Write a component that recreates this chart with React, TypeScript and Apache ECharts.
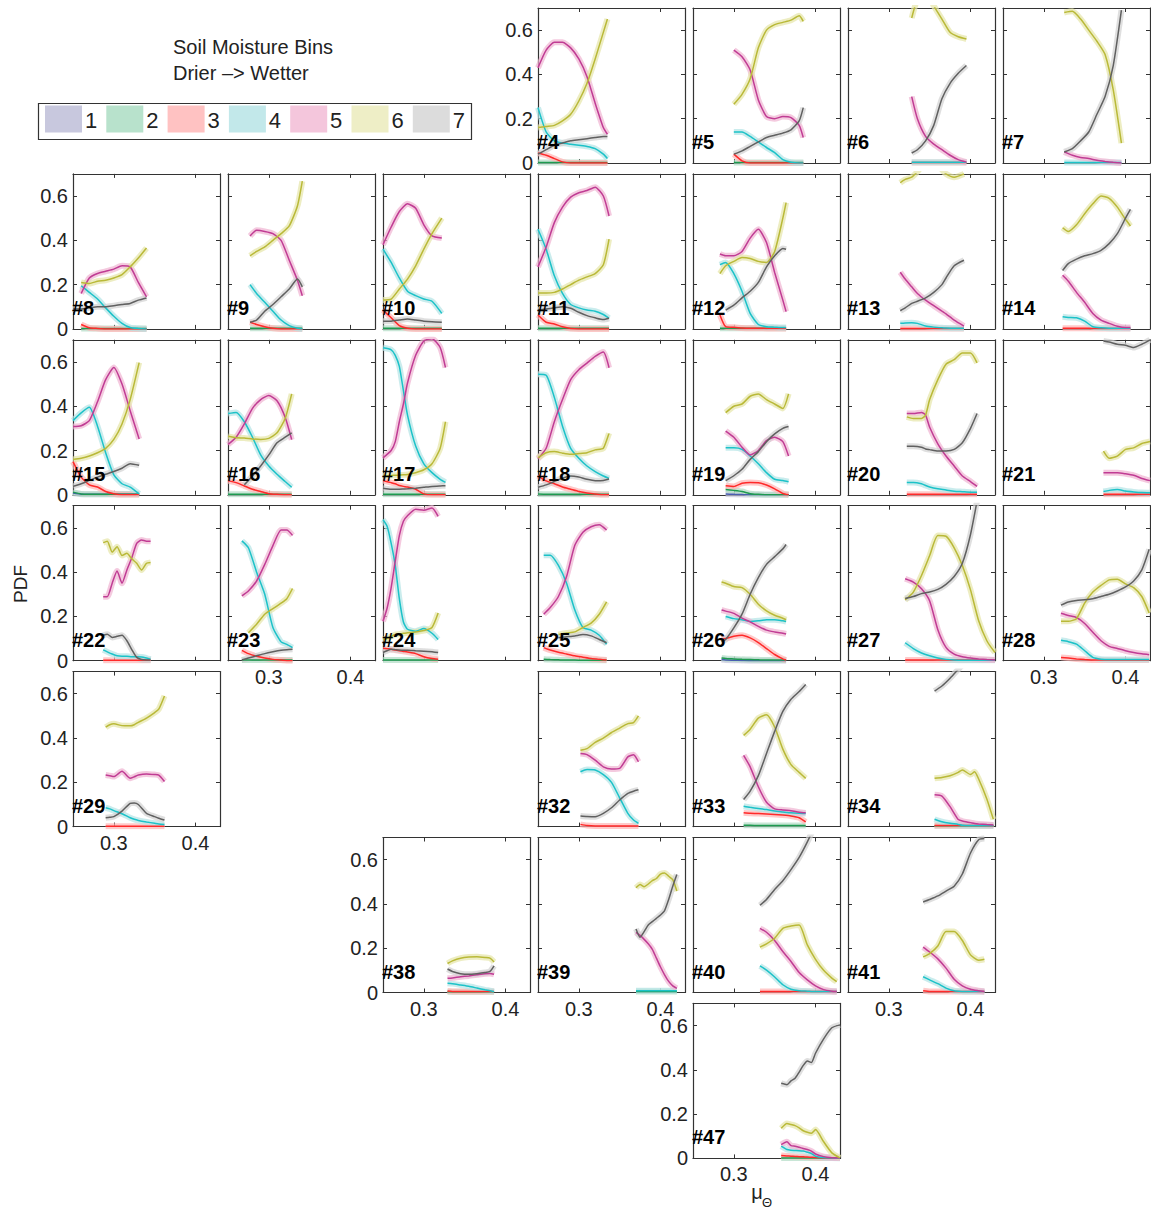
import React, { useEffect, useRef } from "react";
import * as echarts from "echarts";

// ---------- constants ----------
const FONT = '"Liberation Sans", Arial, Helvetica, sans-serif';
const BIN_NAMES = ["1", "2", "3", "4", "5", "6", "7"];
const BIN_LINE = ["#4a5fb0", "#1e9a50", "#ff2a2a", "#1cc2c8", "#c03c94", "#b9b938", "#606060"];
const BIN_FILL = ["#c8c8de", "#b8e2cc", "#ffc2c2", "#c2e8ea", "#f4c6dc", "#eeeec6", "#dcdcdc"];
const BAND_FILL = ["#c4c4dc", "#b0dcc4", "#ffb4b4", "#b4e4e6", "#f0b4d2", "#e6e6a8", "#d2d2d2"];
const X_MIN = 0.25;
const X_MAX = 0.43;
const Y_MIN = 0;
const Y_MAX = 0.7;
const X_TICKS = [0.3, 0.4];
const Y_TICKS = [0, 0.2, 0.4, 0.6];

type Bins = Record<number, (number | null)[]>;

// ---------- data (x = mean soil moisture, y = PDF per bin) ----------
const P4_X = [0.25, 0.26, 0.27, 0.28, 0.29, 0.30, 0.31, 0.32, 0.33, 0.335];
const P4: Bins = {
  2: [0.002, 0.002, 0.002, 0.002, 0.002, 0.002, 0.002, 0.002, 0.002, 0.002],
  3: [0.045, 0.035, 0.02, 0.005, 0, 0, 0, 0, 0, 0],
  4: [0.25, 0.14, 0.10, 0.09, 0.085, 0.08, 0.075, 0.065, 0.04, 0.02],
  5: [0.43, 0.51, 0.545, 0.545, 0.52, 0.47, 0.39, 0.27, 0.16, 0.13],
  6: [0.16, 0.165, 0.17, 0.19, 0.22, 0.28, 0.36, 0.47, 0.59, 0.65],
  7: [0.04, 0.06, 0.08, 0.09, 0.10, 0.105, 0.11, 0.115, 0.12, 0.12],
};

const P5_X = [0.30, 0.31, 0.32, 0.33, 0.34, 0.35, 0.36, 0.37, 0.38, 0.385];
const P5: Bins = {
  2: [0.002, 0.002, 0.002, 0.002, 0.002, 0.002, 0.002, 0.002, 0.002, 0.002],
  3: [0.04, 0.01, 0, 0, 0, 0, 0, 0, 0, 0],
  4: [0.14, 0.14, 0.12, 0.095, 0.07, 0.047, 0.015, 0.003, 0, 0],
  5: [0.51, 0.48, 0.42, 0.285, 0.21, 0.20, 0.21, 0.205, 0.17, 0.115],
  6: [0.265, 0.31, 0.38, 0.52, 0.60, 0.625, 0.635, 0.645, 0.665, 0.64],
  7: [0.04, 0.055, 0.075, 0.095, 0.115, 0.125, 0.135, 0.15, 0.19, 0.25],
};

const P6_X = [0.328, 0.335, 0.345, 0.355, 0.365, 0.375, 0.385, 0.395];
const P6: Bins = {
  3: [0.002, 0.002, 0.002, 0.002, 0.002, 0.002, 0.002, 0.002],
  4: [0.003, 0.003, 0.003, 0.003, 0.003, 0.003, 0.003, 0.003],
  5: [0.30, 0.20, 0.12, 0.085, 0.06, 0.035, 0.015, 0.004],
  6: [0.655, 0.74, 0.78, 0.71, 0.65, 0.59, 0.57, 0.56],
  7: [0.045, 0.06, 0.10, 0.17, 0.29, 0.36, 0.405, 0.44],
};

const P7_X = [0.325, 0.335, 0.345, 0.355, 0.365, 0.375, 0.385, 0.395];
const P7: Bins = {
  4: [0.002, 0.002, 0.002, 0.002, 0.002, 0.002, 0.002, 0.002],
  5: [0.05, 0.035, 0.025, 0.02, 0.012, 0.007, 0.003, 0],
  6: [0.68, 0.685, 0.65, 0.60, 0.55, 0.49, 0.33, 0.09],
  7: [0.05, 0.065, 0.10, 0.14, 0.22, 0.30, 0.44, 0.69],
};

const P8_X = [0.25, 0.26, 0.27, 0.28, 0.29, 0.30, 0.31, 0.32, 0.33, 0.34];
const P8: Bins = {
  2: [null, 0.002, 0.002, 0.002, 0.002, 0.002, 0.002, 0.002, 0.002, 0.002],
  3: [null, 0.02, 0.005, 0.002, 0, 0, 0, 0, 0, 0],
  4: [null, 0.195, 0.165, 0.135, 0.095, 0.057, 0.025, 0.006, 0.002, 0],
  5: [null, 0.16, 0.23, 0.25, 0.26, 0.27, 0.285, 0.28, 0.21, 0.145],
  6: [null, 0.21, 0.205, 0.215, 0.22, 0.23, 0.245, 0.28, 0.32, 0.365],
  7: [0.09, 0.09, 0.095, 0.10, 0.10, 0.105, 0.11, 0.115, 0.13, 0.14],
};

const P9_X = [0.277, 0.285, 0.295, 0.305, 0.315, 0.325, 0.335, 0.341];
const P9: Bins = {
  2: [0.003, 0.003, 0.003, 0.003, 0.003, 0.003, 0.003, 0.003],
  3: [0.03, 0.02, 0.01, 0.003, 0, 0, 0, 0],
  4: [0.20, 0.16, 0.12, 0.08, 0.04, 0.015, 0.003, 0],
  5: [0.42, 0.445, 0.44, 0.43, 0.40, 0.31, 0.22, 0.15],
  6: [0.33, 0.35, 0.37, 0.40, 0.43, 0.465, 0.555, 0.667],
  7: [0.03, 0.04, 0.08, 0.11, 0.145, 0.18, 0.225, 0.19],
};

const P10_X = [0.25, 0.26, 0.27, 0.28, 0.29, 0.30, 0.31, 0.322];
const P10: Bins = {
  2: [0.003, 0.003, 0.003, 0.003, 0.003, 0.003, 0.003, 0.003],
  3: [0.085, 0.05, 0.015, 0.003, 0, 0, 0, 0],
  4: [0.36, 0.30, 0.23, 0.17, 0.15, 0.135, 0.125, 0.07],
  5: [0.38, 0.46, 0.53, 0.565, 0.545, 0.47, 0.42, 0.41],
  6: [0.13, 0.135, 0.18, 0.225, 0.285, 0.36, 0.43, 0.50],
  7: [0.034, 0.035, 0.04, 0.045, 0.04, 0.035, 0.032, 0.03],
};

const P11_X = [0.25, 0.26, 0.27, 0.28, 0.29, 0.30, 0.31, 0.32, 0.33, 0.337];
const P11: Bins = {
  2: [0.003, 0.003, 0.003, 0.003, 0.003, 0.003, 0.003, 0.003, 0.003, 0.003],
  3: [0.063, 0.03, 0.022, 0.01, 0.002, 0, 0, 0, 0, 0],
  4: [0.45, 0.36, 0.24, 0.16, 0.11, 0.095, 0.085, 0.08, 0.065, 0.048],
  5: [0.28, 0.37, 0.48, 0.55, 0.595, 0.615, 0.625, 0.64, 0.60, 0.51],
  6: [0.162, 0.162, 0.165, 0.18, 0.20, 0.22, 0.235, 0.25, 0.29, 0.405],
  7: [0.085, 0.09, 0.095, 0.10, 0.093, 0.075, 0.06, 0.05, 0.042, 0.048],
};

const P12_X = [0.283, 0.29, 0.30, 0.31, 0.32, 0.33, 0.34, 0.35, 0.36, 0.364];
const P12: Bins = {
  2: [0.003, 0.003, 0.003, 0.003, 0.003, 0.003, 0.003, 0.003, 0.003, 0.003],
  3: [0.063, 0.01, 0.007, 0.004, 0.003, 0.003, 0.002, 0.002, 0.002, 0.002],
  4: [0.29, 0.30, 0.25, 0.17, 0.07, 0.02, 0.01, 0.008, 0.006, 0.006],
  5: [0.338, 0.33, 0.33, 0.35, 0.41, 0.45, 0.39, 0.255, 0.13, 0.078],
  6: [0.25, 0.285, 0.305, 0.322, 0.318, 0.305, 0.30, 0.35, 0.50, 0.57],
  7: [null, 0.085, 0.107, 0.14, 0.17, 0.21, 0.28, 0.33, 0.363, 0.36],
};

const P13_X = [0.314, 0.32, 0.328, 0.335, 0.345, 0.355, 0.365, 0.37, 0.38, 0.392];
const P13: Bins = {
  3: [0.002, 0.002, 0.002, 0.002, 0.002, 0.002, 0.002, 0.002, 0.002, 0.002],
  4: [0.025, 0.027, 0.028, 0.025, 0.013, 0.008, 0.005, 0.004, 0.003, 0.003],
  5: [0.256, 0.225, 0.19, 0.16, 0.13, 0.105, 0.08, 0.068, 0.04, 0.013],
  6: [0.66, 0.675, 0.685, 0.71, 0.75, 0.75, 0.72, 0.70, 0.685, 0.70],
  7: [0.082, 0.095, 0.115, 0.125, 0.14, 0.165, 0.20, 0.23, 0.285, 0.31],
};

const P14_X = [0.323, 0.33, 0.34, 0.35, 0.36, 0.37, 0.38, 0.39, 0.40, 0.406];
const P14: Bins = {
  3: [0.003, 0.003, 0.003, 0.003, 0.002, 0.002, 0.002, 0.002, 0.002, 0.002],
  4: [0.055, 0.052, 0.05, 0.035, 0.01, 0.005, 0.003, 0.003, 0.003, 0.003],
  5: [0.242, 0.215, 0.165, 0.12, 0.07, 0.04, 0.025, 0.012, 0.006, 0.006],
  6: [0.457, 0.44, 0.47, 0.52, 0.565, 0.60, 0.59, 0.55, 0.495, 0.465],
  7: [0.264, 0.295, 0.315, 0.33, 0.34, 0.355, 0.385, 0.43, 0.50, 0.54],
};

const P15_X = [0.25, 0.26, 0.27, 0.28, 0.29, 0.30, 0.31, 0.32, 0.331];
const P15: Bins = {
  1: [0.008, 0.003, 0.002, 0.002, 0.002, 0.002, 0.002, 0.002, 0.002],
  2: [0.012, 0.004, 0.003, 0.003, 0.003, 0.003, 0.003, 0.003, 0.003],
  3: [0.15, 0.08, 0.045, 0.035, 0.015, 0.005, 0, 0, 0],
  4: [0.335, 0.37, 0.395, 0.31, 0.19, 0.09, 0.05, 0.035, 0.004],
  5: [0.308, 0.312, 0.335, 0.42, 0.52, 0.575, 0.50, 0.38, 0.252],
  6: [0.16, 0.165, 0.175, 0.19, 0.21, 0.25, 0.32, 0.43, 0.597],
  7: [0.038, 0.05, 0.065, 0.08, 0.093, 0.105, 0.12, 0.14, 0.133],
};

const P16_X = [0.25, 0.26, 0.27, 0.28, 0.29, 0.30, 0.31, 0.32, 0.328];
const P16: Bins = {
  2: [0.003, 0.003, 0.003, 0.003, 0.003, 0.003, 0.003, 0.003, 0.003],
  3: [0.064, 0.055, 0.04, 0.025, 0.015, 0.005, 0.002, 0, 0],
  4: [0.367, 0.372, 0.33, 0.26, 0.18, 0.13, 0.093, 0.06, 0.034],
  5: [0.227, 0.26, 0.32, 0.39, 0.43, 0.448, 0.425, 0.35, 0.249],
  6: [0.264, 0.258, 0.256, 0.252, 0.25, 0.255, 0.28, 0.345, 0.456],
  7: [null, null, 0.045, 0.085, 0.13, 0.18, 0.235, 0.26, 0.28],
};

const P17_X = [0.25, 0.26, 0.265, 0.27, 0.275, 0.28, 0.29, 0.30, 0.31, 0.32, 0.3265];
const P17: Bins = {
  2: [0.003, 0.003, 0.003, 0.003, 0.003, 0.003, 0.003, 0.003, 0.003, 0.003, 0.003],
  3: [0.064, 0.055, 0.05, 0.042, 0.038, 0.035, 0.025, 0.004, 0, 0, 0],
  4: [0.664, 0.655, 0.63, 0.58, 0.47, 0.36, 0.22, 0.14, 0.10, 0.07, 0.056],
  5: [0.167, 0.20, 0.24, 0.33, 0.41, 0.505, 0.63, 0.695, 0.705, 0.665, 0.575],
  6: [0.086, 0.087, 0.088, 0.089, 0.09, 0.092, 0.10, 0.113, 0.14, 0.21, 0.33],
  7: [0.03, 0.025, 0.025, 0.025, 0.026, 0.027, 0.03, 0.034, 0.038, 0.04, 0.041],
};

const P18_X = [0.25, 0.26, 0.27, 0.28, 0.29, 0.30, 0.31, 0.32, 0.33, 0.337];
const P18: Bins = {
  2: [0.004, 0.003, 0.003, 0.003, 0.003, 0.003, 0.003, 0.003, 0.003, 0.003],
  3: [0.086, 0.063, 0.05, 0.035, 0.025, 0.015, 0.008, 0.004, 0, 0],
  4: [0.544, 0.54, 0.44, 0.31, 0.21, 0.165, 0.13, 0.105, 0.085, 0.074],
  5: [0.163, 0.21, 0.33, 0.43, 0.52, 0.565, 0.595, 0.625, 0.645, 0.574],
  6: [0.167, 0.19, 0.195, 0.188, 0.183, 0.186, 0.19, 0.203, 0.21, 0.278],
  7: [0.034, 0.045, 0.06, 0.075, 0.085, 0.08, 0.07, 0.064, 0.065, 0.071],
};

const P19_X = [0.29, 0.30, 0.31, 0.32, 0.33, 0.34, 0.35, 0.36, 0.367];
const P19: Bins = {
  1: [0.004, 0.002, 0.001, 0, 0, 0, 0, 0, 0],
  2: [0.024, 0.02, 0.015, 0.005, 0.002, 0, 0, 0, 0],
  3: [0.041, 0.038, 0.052, 0.056, 0.054, 0.044, 0.027, 0.006, 0],
  4: [0.212, 0.212, 0.205, 0.175, 0.14, 0.10, 0.07, 0.065, 0.059],
  5: [0.288, 0.26, 0.215, 0.18, 0.20, 0.245, 0.26, 0.24, 0.175],
  6: [0.371, 0.40, 0.41, 0.445, 0.455, 0.43, 0.41, 0.39, 0.456],
  7: [0.064, 0.086, 0.115, 0.16, 0.195, 0.24, 0.275, 0.30, 0.308],
};

const P20_X = [0.322, 0.33, 0.34, 0.345, 0.35, 0.36, 0.37, 0.38, 0.39, 0.40, 0.408];
const P20: Bins = {
  3: [0.003, 0.003, 0.003, 0.003, 0.003, 0.003, 0.003, 0.003, 0.003, 0.003, 0.003],
  4: [0.056, 0.056, 0.05, 0.042, 0.035, 0.027, 0.022, 0.016, 0.014, 0.012, 0.012],
  5: [0.367, 0.367, 0.372, 0.36, 0.305, 0.23, 0.175, 0.13, 0.085, 0.06, 0.038],
  6: [0.352, 0.345, 0.345, 0.36, 0.43, 0.52, 0.59, 0.61, 0.64, 0.64, 0.596],
  7: [0.219, 0.219, 0.215, 0.207, 0.204, 0.198, 0.198, 0.205, 0.235, 0.30, 0.367],
};

const P21_X = [0.373, 0.38, 0.39, 0.40, 0.41, 0.42, 0.43];
const P21: Bins = {
  3: [0.002, 0.002, 0.002, 0.002, 0.002, 0.002, 0.002],
  4: [0.015, 0.02, 0.024, 0.017, 0.013, 0.01, 0.009],
  5: [0.10, 0.10, 0.10, 0.095, 0.088, 0.074, 0.064],
  6: [0.197, 0.165, 0.175, 0.205, 0.212, 0.232, 0.241],
  7: [0.695, 0.69, 0.68, 0.675, 0.665, 0.68, 0.70],
};

const P22_X = [0.287, 0.292, 0.298, 0.304, 0.31, 0.316, 0.322, 0.328, 0.334, 0.34, 0.345];
const P22: Bins = {
  3: [0.002, 0.002, 0.002, 0.002, 0.002, 0.002, 0.002, 0.002, 0.002, 0.002, 0.002],
  4: [0.049, 0.04, 0.03, 0.022, 0.02, 0.02, 0.018, 0.018, 0.017, 0.012, 0.007],
  5: [0.289, 0.289, 0.35, 0.405, 0.35, 0.41, 0.465, 0.53, 0.545, 0.54, 0.54],
  6: [0.533, 0.54, 0.49, 0.515, 0.475, 0.485, 0.46, 0.44, 0.41, 0.44, 0.444],
  7: [0.115, 0.12, 0.105, 0.11, 0.115, 0.09, 0.05, 0.015, 0.005, 0.003, 0.003],
};

const P23_X = [0.267, 0.275, 0.285, 0.295, 0.305, 0.315, 0.322, 0.329];
const P23: Bins = {
  2: [0.003, 0.003, 0.003, 0.003, 0.003, 0.003, 0.003, 0.003],
  3: [0.047, 0.032, 0.02, 0.012, 0.006, 0.003, 0, 0],
  4: [0.541, 0.51, 0.40, 0.30, 0.15, 0.085, 0.074, 0.059],
  5: [0.293, 0.315, 0.36, 0.435, 0.52, 0.59, 0.59, 0.566],
  6: [null, 0.126, 0.165, 0.21, 0.235, 0.26, 0.28, 0.326],
  7: [0.003, 0.012, 0.022, 0.032, 0.04, 0.047, 0.05, 0.052],
};

const P24_X = [0.25, 0.255, 0.26, 0.265, 0.27, 0.275, 0.28, 0.29, 0.30, 0.31, 0.3175];
const P24: Bins = {
  2: [0.003, 0.003, 0.003, 0.003, 0.003, 0.003, 0.003, 0.003, 0.003, 0.003, 0.003],
  3: [0.056, 0.054, 0.052, 0.048, 0.045, 0.042, 0.039, 0.032, 0.018, 0.01, 0.007],
  4: [0.637, 0.607, 0.53, 0.43, 0.28, 0.175, 0.142, 0.133, 0.145, 0.124, 0.096],
  5: [0.178, 0.237, 0.33, 0.45, 0.565, 0.63, 0.655, 0.684, 0.68, 0.69, 0.652],
  6: [0.096, 0.10, 0.11, 0.118, 0.12, 0.124, 0.126, 0.13, 0.136, 0.15, 0.215],
  7: [0.037, 0.045, 0.052, 0.05, 0.048, 0.047, 0.047, 0.045, 0.043, 0.04, 0.037],
};

const P25_X = [0.257, 0.265, 0.275, 0.285, 0.295, 0.305, 0.315, 0.325, 0.334];
const P25: Bins = {
  2: [0.006, 0.005, 0.004, 0.003, 0.003, 0.002, 0.002, 0.002, 0.002],
  3: [0.059, 0.048, 0.038, 0.03, 0.022, 0.016, 0.01, 0.006, 0.003],
  4: [0.476, 0.476, 0.43, 0.35, 0.23, 0.15, 0.138, 0.115, 0.074],
  5: [0.21, 0.24, 0.29, 0.38, 0.52, 0.58, 0.605, 0.614, 0.59],
  6: [null, null, 0.118, 0.125, 0.13, 0.15, 0.17, 0.21, 0.266],
  7: [null, null, 0.104, 0.108, 0.112, 0.118, 0.112, 0.096, 0.081],
};

const P26_X = [0.285, 0.29, 0.30, 0.31, 0.32, 0.33, 0.34, 0.35, 0.36, 0.364];
const P26: Bins = {
  1: [0.005, 0.003, 0.002, 0.001, 0, 0, 0, 0, 0, 0],
  2: [0.012, 0.01, 0.008, 0.006, 0.005, 0.004, 0.003, 0.003, 0.003, 0.003],
  3: [0.096, 0.10, 0.11, 0.115, 0.103, 0.082, 0.055, 0.028, 0.008, 0.003],
  4: [null, 0.20, 0.19, 0.185, 0.177, 0.18, 0.185, 0.185, 0.18, 0.177],
  5: [0.229, 0.224, 0.214, 0.192, 0.175, 0.155, 0.138, 0.13, 0.124, 0.121],
  6: [0.355, 0.35, 0.335, 0.33, 0.30, 0.255, 0.225, 0.205, 0.192, 0.185],
  7: [0.085, 0.096, 0.148, 0.21, 0.30, 0.375, 0.435, 0.47, 0.505, 0.525],
};

const P27_X = [0.32, 0.33, 0.34, 0.35, 0.36, 0.37, 0.38, 0.39, 0.40, 0.41, 0.42, 0.43];
const P27: Bins = {
  3: [0.003, 0.003, 0.003, 0.003, 0.003, 0.003, 0.003, 0.003, 0.003, 0.003, 0.003, 0.003],
  4: [0.081, 0.055, 0.035, 0.022, 0.012, 0.006, 0.003, 0.002, 0.002, 0.002, 0.002, 0.002],
  5: [0.37, 0.355, 0.325, 0.27, 0.14, 0.06, 0.03, 0.018, 0.012, 0.008, 0.005, 0.003],
  6: [0.274, 0.31, 0.385, 0.475, 0.565, 0.562, 0.51, 0.43, 0.32, 0.18, 0.09, 0.037],
  7: [0.281, 0.29, 0.303, 0.31, 0.322, 0.345, 0.38, 0.44, 0.57, 0.76, null, null],
};

const P28_X = [0.321, 0.33, 0.34, 0.35, 0.36, 0.37, 0.38, 0.39, 0.40, 0.41, 0.42, 0.429];
const P28: Bins = {
  3: [0.015, 0.012, 0.008, 0.005, 0.003, 0.003, 0.003, 0.003, 0.003, 0.003, 0.003, 0.003],
  4: [0.092, 0.086, 0.075, 0.045, 0.015, 0.007, 0.005, 0.005, 0.005, 0.005, 0.005, 0.005],
  5: [0.214, 0.204, 0.195, 0.168, 0.128, 0.09, 0.065, 0.055, 0.045, 0.037, 0.031, 0.027],
  6: [0.178, 0.178, 0.19, 0.26, 0.31, 0.34, 0.365, 0.368, 0.347, 0.33, 0.29, 0.215],
  7: [0.251, 0.265, 0.272, 0.275, 0.28, 0.29, 0.30, 0.315, 0.333, 0.36, 0.41, 0.503],
};

const P29_X = [0.29, 0.295, 0.30, 0.31, 0.32, 0.325, 0.33, 0.34, 0.35, 0.355, 0.362];
const P29: Bins = {
  3: [0.002, 0.002, 0.002, 0.002, 0.002, 0.002, 0.002, 0.002, 0.002, 0.002, 0.002],
  4: [0.085, 0.08, 0.072, 0.058, 0.04, 0.033, 0.028, 0.021, 0.015, 0.012, 0.01],
  5: [0.233, 0.23, 0.226, 0.25, 0.218, 0.225, 0.233, 0.238, 0.235, 0.232, 0.204],
  6: [0.449, 0.46, 0.464, 0.456, 0.455, 0.46, 0.471, 0.49, 0.515, 0.53, 0.59],
  7: [0.04, 0.042, 0.045, 0.07, 0.105, 0.107, 0.10, 0.06, 0.045, 0.038, 0.03],
};

const P32_X = [0.302, 0.31, 0.32, 0.33, 0.34, 0.35, 0.36, 0.367, 0.373];
const P32: Bins = {
  3: [0.01, 0.005, 0.003, 0.003, 0.003, 0.003, 0.003, 0.003, 0.003],
  4: [0.248, 0.258, 0.256, 0.235, 0.20, 0.13, 0.06, 0.03, 0.015],
  5: [0.33, 0.325, 0.30, 0.27, 0.26, 0.263, 0.315, 0.325, 0.293],
  6: [0.345, 0.352, 0.38, 0.40, 0.425, 0.445, 0.465, 0.47, 0.50],
  7: [0.048, 0.046, 0.045, 0.06, 0.085, 0.12, 0.15, 0.16, 0.166],
};

const P33_X = [0.312, 0.32, 0.33, 0.34, 0.35, 0.36, 0.37, 0.38, 0.388];
const P33: Bins = {
  2: [0.006, 0.006, 0.005, 0.005, 0.005, 0.005, 0.005, 0.005, 0.005],
  3: [0.062, 0.06, 0.059, 0.057, 0.055, 0.052, 0.048, 0.04, 0.021],
  4: [0.092, 0.087, 0.082, 0.077, 0.07, 0.066, 0.062, 0.06, 0.059],
  5: [0.322, 0.27, 0.18, 0.11, 0.08, 0.075, 0.072, 0.065, 0.062],
  6: [0.412, 0.44, 0.49, 0.505, 0.45, 0.35, 0.28, 0.245, 0.218],
  7: [0.122, 0.16, 0.23, 0.33, 0.43, 0.52, 0.575, 0.61, 0.642],
};

const P34_X = [0.356, 0.365, 0.375, 0.385, 0.39, 0.40, 0.405, 0.41, 0.42, 0.428];
const P34: Bins = {
  2: [0.004, 0.004, 0.004, 0.004, 0.004, 0.004, 0.004, 0.004, 0.004, 0.004],
  3: [0.005, 0.005, 0.005, 0.005, 0.005, 0.005, 0.005, 0.005, 0.005, 0.005],
  4: [0.033, 0.022, 0.015, 0.01, 0.006, 0.005, 0.005, 0.005, 0.005, 0.005],
  5: [0.144, 0.138, 0.09, 0.032, 0.025, 0.018, 0.014, 0.012, 0.009, 0.007],
  6: [0.218, 0.222, 0.23, 0.245, 0.256, 0.235, 0.248, 0.215, 0.125, 0.033],
  7: [0.612, 0.635, 0.67, 0.71, 0.73, null, null, null, null, null],
};

const P38_X = [0.329, 0.335, 0.345, 0.355, 0.365, 0.375, 0.381, 0.386];
const P38: Bins = {
  2: [0.003, 0.003, 0.003, 0.003, 0.003, 0.003, 0.003, 0.003],
  3: [0.007, 0.005, 0.005, 0.005, 0.005, 0.005, 0.005, 0.005],
  4: [0.042, 0.04, 0.034, 0.028, 0.02, 0.012, 0.008, 0.004],
  5: [0.064, 0.066, 0.071, 0.075, 0.08, 0.085, 0.086, 0.082],
  6: [0.131, 0.143, 0.155, 0.16, 0.161, 0.158, 0.155, 0.138],
  7: [0.106, 0.095, 0.085, 0.082, 0.085, 0.09, 0.095, 0.12],
};

const P39_X = [0.37, 0.375, 0.38, 0.385, 0.39, 0.395, 0.40, 0.405, 0.41, 0.415, 0.42];
const P39: Bins = {
  2: [0.005, 0.005, 0.005, 0.005, 0.005, 0.005, 0.005, 0.005, 0.005, 0.005, 0.005],
  4: [0.008, 0.008, 0.008, 0.008, 0.008, 0.008, 0.008, 0.008, 0.008, 0.008, 0.008],
  5: [0.272, 0.258, 0.24, 0.22, 0.195, 0.155, 0.115, 0.08, 0.05, 0.03, 0.019],
  6: [0.473, 0.488, 0.478, 0.49, 0.505, 0.515, 0.535, 0.54, 0.525, 0.51, 0.458],
  7: [0.287, 0.25, 0.275, 0.305, 0.32, 0.335, 0.35, 0.37, 0.42, 0.48, 0.533],
};

const P40_X = [0.332, 0.34, 0.35, 0.36, 0.37, 0.38, 0.39, 0.40, 0.41, 0.42, 0.426];
const P40: Bins = {
  3: [0.005, 0.005, 0.005, 0.005, 0.005, 0.005, 0.005, 0.005, 0.005, 0.005, 0.005],
  4: [0.12, 0.101, 0.07, 0.035, 0.015, 0.008, 0.006, 0.004, 0.004, 0.004, 0.004],
  5: [0.29, 0.272, 0.235, 0.185, 0.14, 0.09, 0.057, 0.03, 0.013, 0.006, 0.004],
  6: [0.205, 0.22, 0.245, 0.29, 0.30, 0.305, 0.215, 0.15, 0.10, 0.065, 0.049],
  7: [0.394, 0.42, 0.465, 0.505, 0.555, 0.61, 0.68, 0.76, null, null, null],
};

const P41_X = [0.342, 0.35, 0.36, 0.37, 0.38, 0.39, 0.40, 0.41, 0.417];
const P41: Bins = {
  3: [0.008, 0.005, 0.005, 0.005, 0.005, 0.005, 0.005, 0.005, 0.005],
  4: [0.071, 0.057, 0.04, 0.02, 0.008, 0.005, 0.004, 0.004, 0.004],
  5: [0.205, 0.183, 0.152, 0.11, 0.06, 0.03, 0.015, 0.008, 0.004],
  6: [0.161, 0.176, 0.21, 0.275, 0.275, 0.235, 0.17, 0.146, 0.15],
  7: [0.409, 0.42, 0.436, 0.458, 0.48, 0.535, 0.63, 0.69, 0.695],
};

const P47_X = [0.358, 0.365, 0.37, 0.375, 0.38, 0.385, 0.39, 0.395, 0.40, 0.41, 0.42, 0.43];
const P47: Bins = {
  2: [0.002, 0.002, 0.002, 0.002, 0.002, 0.002, 0.002, 0.002, 0.002, 0.002, 0.002, 0.002],
  3: [0.013, 0.011, 0.01, 0.009, 0.008, 0.007, 0.006, 0.005, 0.004, 0.003, 0.003, 0.003],
  4: [0.055, 0.04, 0.037, 0.036, 0.035, 0.033, 0.028, 0.022, 0.01, 0.004, 0.002, 0],
  5: [0.062, 0.075, 0.058, 0.055, 0.05, 0.045, 0.04, 0.033, 0.02, 0.008, 0.003, 0.002],
  6: [0.136, 0.158, 0.153, 0.148, 0.138, 0.125, 0.118, 0.114, 0.13, 0.075, 0.025, 0.002],
  7: [0.339, 0.333, 0.35, 0.362, 0.39, 0.42, 0.44, 0.433, 0.475, 0.54, 0.59, 0.603],
};

// ---------- layout of panels (row / column in the figure grid) ----------
interface Panel { id: number; row: number; col: number; xs: number[]; bins: Bins; yLab?: boolean; xLab?: boolean }
const PANELS: Panel[] = [
  { id: 4, row: 0, col: 3, xs: P4_X, bins: P4, yLab: true },
  { id: 5, row: 0, col: 4, xs: P5_X, bins: P5 },
  { id: 6, row: 0, col: 5, xs: P6_X, bins: P6 },
  { id: 7, row: 0, col: 6, xs: P7_X, bins: P7 },
  { id: 8, row: 1, col: 0, xs: P8_X, bins: P8, yLab: true },
  { id: 9, row: 1, col: 1, xs: P9_X, bins: P9 },
  { id: 10, row: 1, col: 2, xs: P10_X, bins: P10 },
  { id: 11, row: 1, col: 3, xs: P11_X, bins: P11 },
  { id: 12, row: 1, col: 4, xs: P12_X, bins: P12 },
  { id: 13, row: 1, col: 5, xs: P13_X, bins: P13 },
  { id: 14, row: 1, col: 6, xs: P14_X, bins: P14 },
  { id: 15, row: 2, col: 0, xs: P15_X, bins: P15, yLab: true },
  { id: 16, row: 2, col: 1, xs: P16_X, bins: P16 },
  { id: 17, row: 2, col: 2, xs: P17_X, bins: P17 },
  { id: 18, row: 2, col: 3, xs: P18_X, bins: P18 },
  { id: 19, row: 2, col: 4, xs: P19_X, bins: P19 },
  { id: 20, row: 2, col: 5, xs: P20_X, bins: P20 },
  { id: 21, row: 2, col: 6, xs: P21_X, bins: P21 },
  { id: 22, row: 3, col: 0, xs: P22_X, bins: P22, yLab: true },
  { id: 23, row: 3, col: 1, xs: P23_X, bins: P23, xLab: true },
  { id: 24, row: 3, col: 2, xs: P24_X, bins: P24 },
  { id: 25, row: 3, col: 3, xs: P25_X, bins: P25 },
  { id: 26, row: 3, col: 4, xs: P26_X, bins: P26 },
  { id: 27, row: 3, col: 5, xs: P27_X, bins: P27 },
  { id: 28, row: 3, col: 6, xs: P28_X, bins: P28, xLab: true },
  { id: 29, row: 4, col: 0, xs: P29_X, bins: P29, yLab: true, xLab: true },
  { id: 32, row: 4, col: 3, xs: P32_X, bins: P32 },
  { id: 33, row: 4, col: 4, xs: P33_X, bins: P33 },
  { id: 34, row: 4, col: 5, xs: P34_X, bins: P34 },
  { id: 38, row: 5, col: 2, xs: P38_X, bins: P38, yLab: true, xLab: true },
  { id: 39, row: 5, col: 3, xs: P39_X, bins: P39, xLab: true },
  { id: 40, row: 5, col: 4, xs: P40_X, bins: P40 },
  { id: 41, row: 5, col: 5, xs: P41_X, bins: P41, xLab: true },
  { id: 47, row: 6, col: 4, xs: P47_X, bins: P47, yLab: true, xLab: true },
];

const GRID_LEFT0 = 73;
const COL_STEP = 155;
const GRID_TOP0 = 8;
const ROW_STEP = 165.9;
const GRID_W = 147;
const GRID_H = 155;

function buildOption() {
  const grids: any[] = [];
  const xAxes: any[] = [];
  const yAxes: any[] = [];
  const bandSeries: any[] = [];
  const lineSeries: any[] = [];
  const graphics: any[] = [];

  const axisLine = { show: true, onZero: false, lineStyle: { color: "#333", width: 1.2 } };
  const tickStyle = { color: "#333", width: 1 };
  const labelStyle = { fontSize: 20, color: "#222", fontFamily: FONT };

  PANELS.forEach((p, i) => {
    const left = GRID_LEFT0 + p.col * COL_STEP;
    const top = GRID_TOP0 + p.row * ROW_STEP;
    grids.push({ left, top, width: GRID_W, height: GRID_H, containLabel: false });

    const xBase = {
      gridIndex: i, type: "value", min: X_MIN, max: X_MAX,
      splitLine: { show: false }, axisLine,
      axisTick: { show: true, inside: true, length: 4, customValues: X_TICKS, lineStyle: tickStyle },
    };
    xAxes.push({
      ...xBase, position: "bottom",
      axisLabel: { show: !!p.xLab, customValues: X_TICKS, margin: 6, ...labelStyle, formatter: (v: number) => v.toFixed(1) },
    });
    xAxes.push({ ...xBase, position: "top", axisLabel: { show: false } });

    const yBase = {
      gridIndex: i, type: "value", min: Y_MIN, max: Y_MAX,
      splitLine: { show: false }, axisLine,
      axisTick: { show: true, inside: true, length: 4, customValues: Y_TICKS, lineStyle: tickStyle },
    };
    yAxes.push({
      ...yBase, position: "left",
      axisLabel: { show: !!p.yLab, customValues: Y_TICKS, margin: 5, ...labelStyle, formatter: (v: number) => (v === 0 ? "0" : v.toFixed(1)) },
    });
    yAxes.push({ ...yBase, position: "right", axisLabel: { show: false } });

    for (let b = 1; b <= 7; b++) {
      const vals = p.bins[b];
      if (!vals) continue;
      const data = p.xs.map((x, k) => [x, vals[k] == null ? "-" : vals[k]]);
      const common = {
        type: "line", xAxisIndex: 2 * i, yAxisIndex: 2 * i, data,
        symbol: "none", smooth: 0.2, silent: true, clip: true, animation: false,
        name: BIN_NAMES[b - 1],
      };
      bandSeries.push({ ...common, z: 1, lineStyle: { width: 6, color: BAND_FILL[b - 1], opacity: 0.7, cap: "butt", join: "round" } });
      lineSeries.push({ ...common, z: 3, lineStyle: { width: 1.5, color: BIN_LINE[b - 1] } });
    }

    graphics.push({
      type: "text", x: left - 1, y: top + GRID_H - 21, z: 50,
      style: { text: "#" + p.id, fontSize: 20, fontWeight: "bold", fontFamily: FONT, fill: "#000", verticalAlign: "middle", align: "left" },
    });
  });

  // legend header
  graphics.push({ type: "text", x: 173, y: 47, style: { text: "Soil Moisture Bins", fontSize: 20, fontFamily: FONT, fill: "#222", verticalAlign: "middle" } });
  graphics.push({ type: "text", x: 173, y: 73, style: { text: "Drier \u2013> Wetter", fontSize: 20, fontFamily: FONT, fill: "#222", verticalAlign: "middle" } });
  graphics.push({ type: "rect", shape: { x: 38.5, y: 103.5, width: 433, height: 36 }, style: { fill: "#fff", stroke: "#333", lineWidth: 1.2 } });
  BIN_NAMES.forEach((n, k) => {
    const sx = 45 + k * 61.3;
    graphics.push({ type: "rect", shape: { x: sx, y: 105.5, width: 37, height: 27 }, style: { fill: BIN_FILL[k] } });
    graphics.push({ type: "text", x: sx + 46, y: 120, style: { text: n, fontSize: 22, fontFamily: FONT, fill: "#222", align: "center", verticalAlign: "middle" } });
  });

  // axis titles
  graphics.push({ type: "text", x: 20, y: 584, rotation: Math.PI / 2, style: { text: "PDF", fontSize: 19, fontFamily: FONT, fill: "#222", align: "center", verticalAlign: "middle" } });
  graphics.push({ type: "text", x: 757, y: 1192, style: { text: "\u03bc", fontSize: 20, fontFamily: FONT, fill: "#222", align: "center", verticalAlign: "middle" } });
  graphics.push({ type: "text", x: 767, y: 1202, style: { text: "\u0398", fontSize: 13, fontFamily: FONT, fill: "#222", align: "center", verticalAlign: "middle" } });

  return {
    animation: false,
    backgroundColor: "#ffffff",
    grid: grids,
    xAxis: xAxes,
    yAxis: yAxes,
    series: [...bandSeries, ...lineSeries],
    graphic: graphics,
  };
}

export default function App() {
  const ref = useRef<HTMLDivElement>(null);
  useEffect(() => {
    if (!ref.current) return;
    const chart = echarts.init(ref.current, undefined, { renderer: "svg" });
    chart.setOption(buildOption() as any);
    return () => chart.dispose();
  }, []);
  return (
    <div
      ref={ref}
      style={{ position: "absolute", left: 0, top: 0, width: 1151, height: 1211, background: "#fff" }}
    />
  );
}
